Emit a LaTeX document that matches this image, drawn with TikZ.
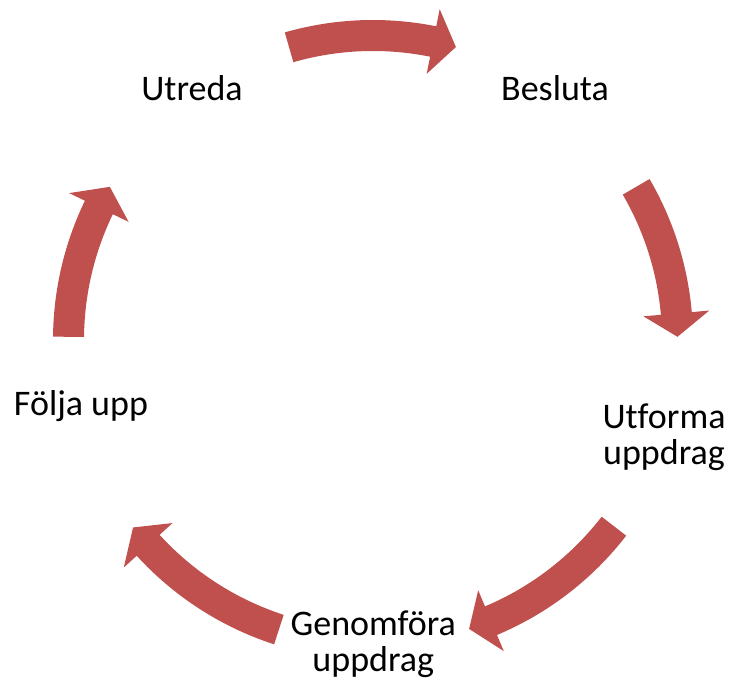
\documentclass[tikz,border=0pt]{standalone}
\usepackage{fontspec}
\setmainfont{Carlito}[Ligatures=NoCommon]
\definecolor{arrowred}{HTML}{C0504D}

\begin{document}
\begin{tikzpicture}[x=1pt,y=1pt,
    cyclelabel/.style={anchor=base,inner sep=0pt,align=center,
        font=\fontsize{36}{36}\selectfont}]
    \useasboundingbox (0,0) rectangle (732,684);
    % curved block arrows round the cycle
    \begin{scope}[shift={(373,344)}]
    \foreach \s/\e in {106/74.2,30.2/0.6,-37.7/-71.6,-108/-142,179.4/149.8}{
        \pgfmathsetmacro{\h}{\e+4.4}
        \fill [arrowred] (\s:320) arc [start angle=\s, end angle=\h, radius=320]
            -- (\h:337.5) -- (\e:304.5) -- (\h:271.5) -- (\h:289)
            arc [start angle=\h, end angle=\s, radius=289] -- cycle;
    }
    \end{scope}
    % labels (base of two-line labels is their last line)
    \node [cyclelabel] (utreda)    at (192,583)   {Utreda};
    \node [cyclelabel] (besluta)   at (555,583)   {Besluta};
    \node [cyclelabel] (utforma)   at (664,219)   {Utforma\\uppdrag};
    \node [cyclelabel] (genomfora) at (373.3,12.3) {Genomföra\\uppdrag};
    \node [cyclelabel] (folja)     at (81,268.3)  {Följa upp};
\end{tikzpicture}
\end{document}
